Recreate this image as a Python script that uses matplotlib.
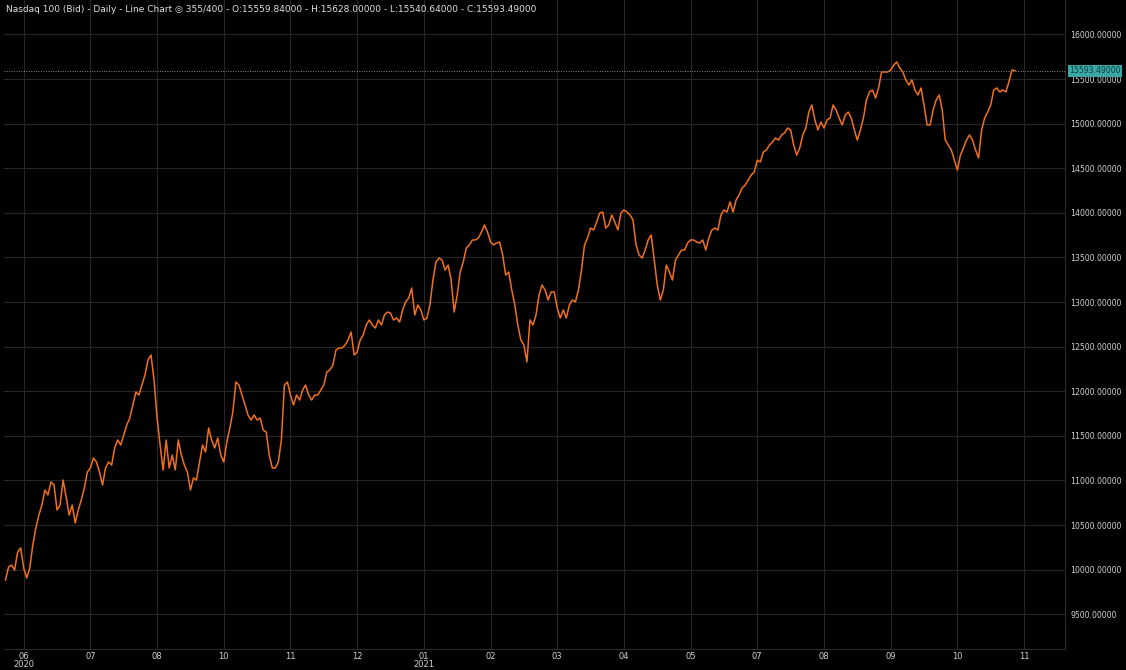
import numpy as np
import matplotlib
matplotlib.use("Agg")
import matplotlib.pyplot as plt

close = [9884,10030,10052,9996,10198,10243,10019,9907,10019,10277,10467,10613,10725,10893,10837,10983,10949,10669,10725,11005,10815,10613,10725,10523,10669,10781,10916,11095,11140,11252,11207,11095,10949,11140,11207,11173,11364,
11454,11398,11510,11622,11700,11846,11992,11958,12070,12182,12350,12406,12126,11700,11398,11117,11454,11140,11285,11117,11454,11285,11173,11095,10893,11028,11005,11207,11398,11319,11588,11454,11364,11476,11285,11207,11431,11588,11768,12104,12070,11958,11846,11734,11678,11734,11678,11700,11566,11543,11285,11140,11140,11207,11454,12070,12104,11958,11846,11958,11902,12014,12070,11958,11902,11958,11958,12014,12070,12216,12238,12294,12462,12485,12485,12518,12575,12664,12406,12440,12575,12631,12743,12799,12743,12709,12799,12743,12855,12888,12877,12799,12821,12776,12911,13001,13045,13158,12855,12967,12911,12799,12821,12967,13247,13449,13494,13471,13359,13415,13247,12888,13079,13337,13449,13606,13640,13696,13696,13718,13785,13864,13785,13673,13640,13662,13673,13527,13303,13337,13135,12967,12743,12575,12518,12328,12799,12743,12855,13079,13191,13135,13023,13113,13113,12933,12821,12911,12821,12967,13023,13001,13135,13359,13640,13718,13830,13808,13897,13998,14009,13830,13864,13976,13897,13808,13998,14032,14009,13976,13920,13640,13527,13494,13583,13696,13752,13471,13191,13023,13135,13415,13337,13247,13471,13527,13583,13583,13662,13696,13696,13673,13662,13696,13583,13718,13808,13830,13808,13976,14032,14009,14122,14009,14144,14200,14279,14312,14368,14424,14458,14592,14570,14682,14704,14760,14794,14839,14816,14873,14895,14951,14929,14760,14648,14727,14873,14951,15130,15209,15041,14929,15018,14951,15041,15063,15209,15153,15063,14985,15097,15130,15063,14929,14816,14929,15063,15265,15355,15377,15287,15400,15579,15579,15579,15601,15657,15691,15624,15579,15489,15433,15489,15377,15321,15400,15209,14985,14985,15153,15265,15321,15153,14816,14760,14704,14592,14480,14648,14727,14816,14873,14816,14704,14615,14929,15063,15130,15209,15377,15400,15355,15377,15355,15467,15601,15593.49]
tick_pos = [6, 28, 50, 72, 94, 116, 138, 160, 182, 204, 226, 248, 270, 292, 314, 336]
tick_lbl = ["06\n2020","07","08","10","11","12","01\n2021","02","03","04","05","07","08","09","10","11"]
yticks = [9500,10000,10500,11000,11500,12000,12500,13000,13500,14000,14500,15000,15500,16000]
last = 15593.49

fig = plt.figure(figsize=(11.26, 6.70), dpi=100, facecolor="black")
ax = fig.add_axes([4/1126, 21/670, 1061/1126, 649/670], facecolor="black")
x = np.arange(len(close))
ax.plot(x, close, color="#f07020", lw=1.1)
ax.set_xlim(-0.5, len(close) - 1 + 16.5)
ax.set_ylim(9111, 16386)
ax.set_xticks(tick_pos)
ax.set_xticklabels(tick_lbl, color="#d0d0d0", fontsize=6, linespacing=0.85)
ax.set_yticks(yticks)
ax.set_yticklabels([f"{v:.5f}" for v in yticks], color="#d0d0d0", fontsize=5.6)
ax.yaxis.tick_right()
ax.tick_params(axis="x", length=0, pad=2)
ax.tick_params(axis="y", length=0, pad=4)
ax.grid(True, color="#262626", lw=0.8)
for s in ax.spines.values():
    s.set_visible(False)
ax.spines["right"].set_visible(True); ax.spines["right"].set_color("#2a2a2a")
ax.spines["bottom"].set_visible(True); ax.spines["bottom"].set_color("#2a2a2a")
ax.axhline(last, color="#888888", lw=0.7, ls=(0, (1, 1.5)))
ax.text(1.004, last, f"{last:.5f}", transform=ax.get_yaxis_transform(), va="center", ha="left",
        fontsize=5.6, color="#104040", bbox=dict(boxstyle="square,pad=0.2", fc="#3aa6a6", ec="none"))
fig.text(6/1126, 1 - 9/670, "Nasdaq 100 (Bid) - Daily - Line Chart \u25ce 355/400 - O:15559.84000 - H:15628.00000 - L:15540.64000 - C:15593.49000",
         color="#e0e0e0", fontsize=6.5, va="center", ha="left")
fig.savefig("out.png", dpi=100, facecolor="black")
